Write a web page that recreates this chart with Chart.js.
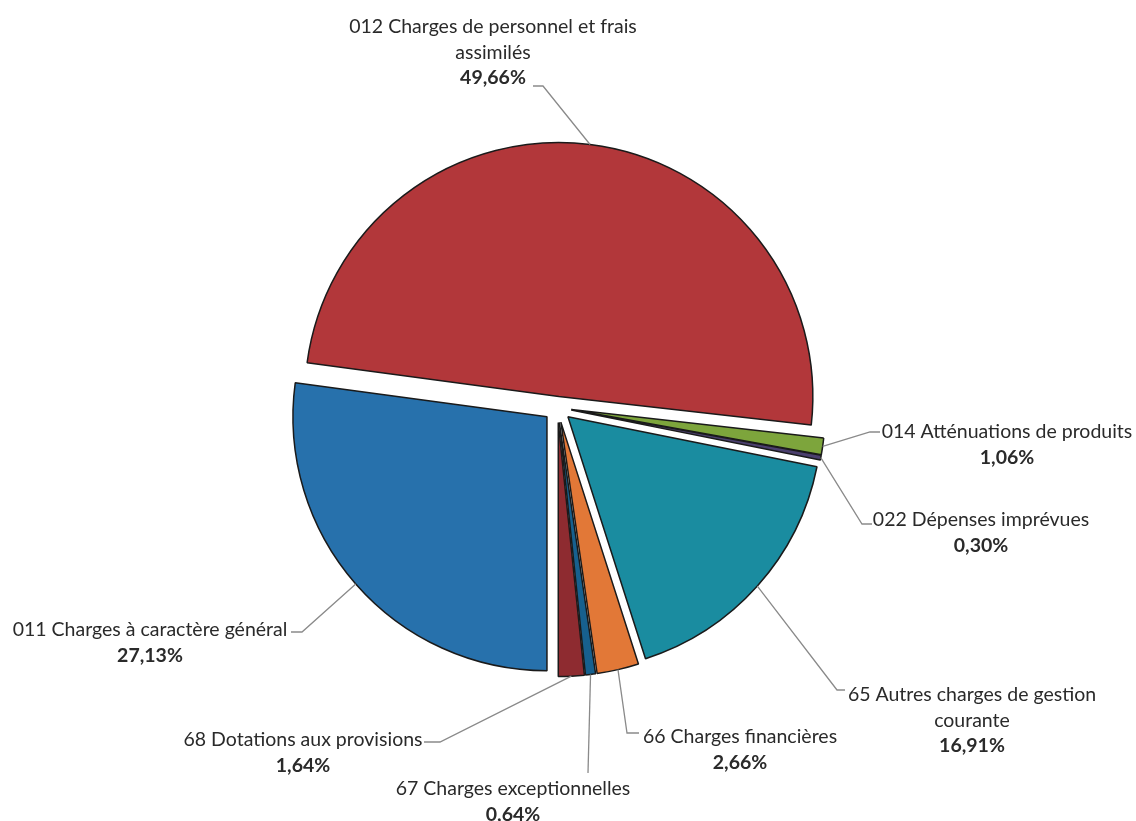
<!DOCTYPE html>
<html>
<head>
  <title>Dépenses de fonctionnement</title>
  <script src="https://cdn.jsdelivr.net/npm/chart.js"></script>
  <style>
    body {
      margin: 0;
      background: #ffffff;
    }
    #wrap {
      width: 1136px;
      height: 821px;
      position: relative;
    }
  </style>
</head>
<body>
  <div id="wrap"><canvas id="pieChart"></canvas></div>
  <script>
    const categories = [
      ['011 Charges à caractère général'],
      ['012 Charges de personnel et frais', 'assimilés'],
      ['014 Atténuations de produits'],
      ['022 Dépenses imprévues'],
      ['65 Autres charges de gestion', 'courante'],
      ['66 Charges financières'],
      ['67 Charges exceptionnelles'],
      ['68 Dotations aux provisions']
    ];
    const values = [27.13, 49.66, 1.06, 0.30, 16.91, 2.66, 0.64, 1.64];
    const colors = ['#2771AC', '#B2373A', '#7DA53C', '#4B3F6E', '#1A8CA0', '#E27837', '#17608E', '#8E2B30'];
    // explosion of each slice (chart.js draws offset / 4 px)
    const explode = [56, 44, 56, 56, 56, 60, 60, 60];

    // where each callout ends up: elbow of the leader line, short tick, text centre, first line y
    const labelLayout = [
      {elbow: [302, 632], tick: -11, cx: 150, y: 630},
      {elbow: [543, 86], tick: -10, cx: 493, y: 27},
      {elbow: [870, 432], tick: 10, cx: 1007, y: 432},
      {elbow: [862, 524], tick: 10, cx: 981, y: 520},
      {elbow: [837, 690], tick: 8, cx: 972, y: 695},
      {elbow: [627, 733], tick: 12, cx: 740, y: 737},
      {elbow: [588, 773], tick: 0, cx: 513, y: 789},
      {elbow: [440, 742], tick: -16, cx: 303, y: 740}
    ];
    const lineHeight = 25.5;
    const fontFamily = 'Lato, "Noto Sans", sans-serif';

    const pctText = v => v.toFixed(2).replace('.', ',') + '%';

    // chart.js grows and trims offset arcs, put them back to the plain radius / angle
    const explodeFix = {
      id: 'explodeFix',
      afterDatasetUpdate(chart, args) {
        args.meta.data.forEach(arc => {
          const shift = (arc.options.offset || 0) / 4;
          const fix = 1 - Math.sin(Math.min(Math.PI, arc.circumference || 0));
          const r = shift * fix;
          const R = arc.outerRadius;
          arc.outerRadius = R - r;
          const trim = r / (2 * Math.PI * R);
          arc.startAngle -= trim;
          arc.endAngle += trim;
        });
      }
    };

    const callouts = {
      id: 'callouts',
      afterDraw(chart) {
        const ctx = chart.ctx;
        const meta = chart.getDatasetMeta(0);
        const R = meta.controller.outerRadius;
        ctx.save();
        meta.data.forEach((arc, i) => {
          const mid = (arc.startAngle + arc.endAngle) / 2;
          const shift = (arc.options.offset || 0) / 4;
          const sx = arc.x + Math.cos(mid) * (shift + R);
          const sy = arc.y + Math.sin(mid) * (shift + R);
          const p = labelLayout[i];
          ctx.strokeStyle = '#8a8a8a';
          ctx.lineWidth = 1.3;
          ctx.beginPath();
          ctx.moveTo(sx, sy);
          ctx.lineTo(p.elbow[0], p.elbow[1]);
          ctx.lineTo(p.elbow[0] + p.tick, p.elbow[1]);
          ctx.stroke();

          ctx.fillStyle = '#2a2a2a';
          ctx.textAlign = 'center';
          ctx.textBaseline = 'middle';
          ctx.font = '19.5px ' + fontFamily;
          const lines = categories[i];
          lines.forEach((t, k) => ctx.fillText(t, p.cx, p.y + k * lineHeight));
          ctx.font = 'bold 19.5px ' + fontFamily;
          ctx.fillText(pctText(values[i]), p.cx, p.y + lines.length * lineHeight);
        });
        ctx.restore();
      }
    };

    new Chart(document.getElementById('pieChart'), {
      type: 'pie',
      data: {
        labels: categories,
        datasets: [{
          data: values,
          backgroundColor: colors,
          borderColor: '#1a1a1a',
          borderWidth: 1.5,
          offset: explode
        }]
      },
      options: {
        responsive: true,
        maintainAspectRatio: false,
        animation: false,
        events: [],
        rotation: 180,
        radius: 254,
        layout: {
          padding: {left: 0, right: 21, top: 0, bottom: 6}
        },
        plugins: {
          legend: {display: false},
          tooltip: {enabled: false}
        }
      },
      plugins: [explodeFix, callouts]
    });
  </script>
</body>
</html>
